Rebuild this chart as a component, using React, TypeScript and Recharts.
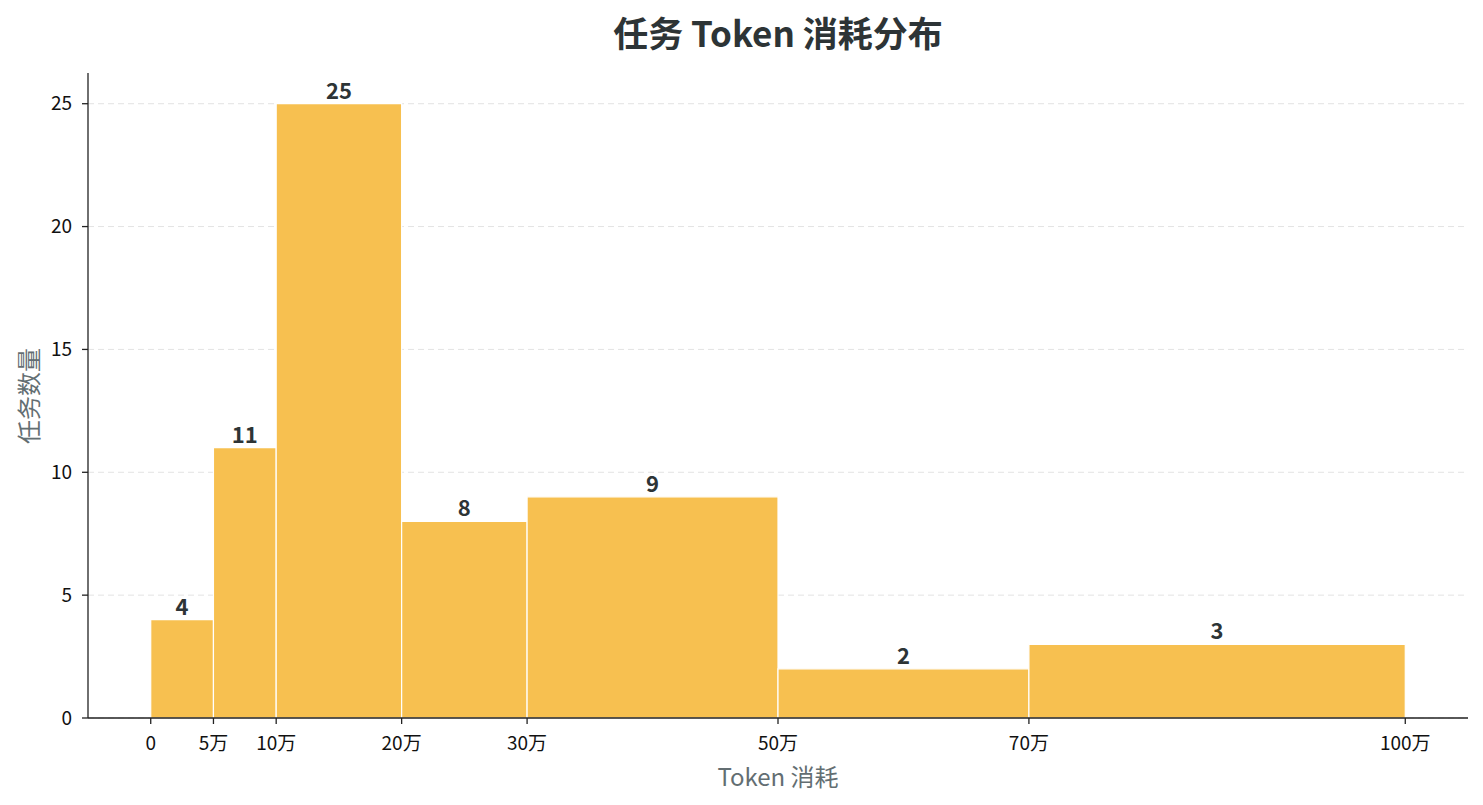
import { CartesianGrid, ComposedChart, ReferenceArea, XAxis, YAxis } from "recharts";

// bin edges in 万 tokens and task counts per bin
const binEdges = [0, 5, 10, 20, 30, 50, 70, 100];
const binCounts = [4, 11, 25, 8, 9, 2, 3];
const xTicks = [0, 5, 10, 20, 30, 50, 70, 100];
const yTicks = [0, 5, 10, 15, 20, 25];

const bins = binCounts.map((count, i) => ({ start: binEdges[i], end: binEdges[i + 1], count }));

const FONT = '"Noto Sans CJK SC", "Noto Sans", sans-serif';
const BAR_COLOR = "#f7c050";
const DARK = "#2d3436";
const GREY = "#636e72";
const AXIS = "#222";

const fmtX = (v: number) => (v === 0 ? "0" : `${v}万`);

export default function App() {
  return (
    <div style={{ position: "absolute", left: 0, top: 0, width: 1483, height: 805, fontFamily: FONT, background: "#fff" }}>
      <div
        style={{
          position: "absolute",
          left: 88,
          width: 1380,
          top: 10,
          textAlign: "center",
          fontSize: 35,
          fontWeight: 700,
          color: DARK,
          lineHeight: "44px",
        }}
      >
        任务 Token 消耗分布
      </div>
      <ComposedChart width={1483} height={805} data={bins} margin={{ top: 73, right: 15, bottom: 0, left: 0 }}>
        <CartesianGrid horizontal vertical={false} syncWithTicks stroke="#e3e3e3" strokeDasharray="6 4" />
        <XAxis
          type="number"
          dataKey="start"
          domain={[-5, 105]}
          ticks={xTicks}
          allowDataOverflow
          tickFormatter={fmtX}
          height={87}
          tickSize={6}
          tickMargin={13}
          tick={{ fontSize: 19, fill: "#111", fontFamily: FONT }}
          axisLine={{ stroke: AXIS, strokeWidth: 1.3 }}
          tickLine={{ stroke: AXIS, strokeWidth: 1.3 }}
          interval={0}
        />
        <YAxis
          type="number"
          domain={[0, 26.25]}
          ticks={yTicks}
          allowDataOverflow
          width={88}
          tickSize={6}
          tickMargin={10}
          tick={{ fontSize: 19, fill: "#111", fontFamily: FONT }}
          axisLine={{ stroke: AXIS, strokeWidth: 1.3 }}
          tickLine={{ stroke: AXIS, strokeWidth: 1.3 }}
        />
        {bins.map((b) => (
          <ReferenceArea
            key={b.start}
            x1={b.start}
            x2={b.end}
            y1={0}
            y2={b.count}
            fill={BAR_COLOR}
            fillOpacity={1}
            stroke="#fff"
            strokeWidth={1.2}
            label={{
              value: b.count,
              position: "top",
              offset: 5,
              fill: DARK,
              fontSize: 22,
              fontWeight: 700,
              fontFamily: FONT,
            }}
          />
        ))}
      </ComposedChart>
      <div
        style={{
          position: "absolute",
          left: 88,
          width: 1380,
          top: 761,
          textAlign: "center",
          fontSize: 24,
          color: GREY,
          lineHeight: "30px",
        }}
      >
        Token 消耗
      </div>
      <div
        style={{
          position: "absolute",
          left: 28,
          top: 396,
          transform: "translate(-50%, -50%) rotate(-90deg)",
          fontSize: 24,
          color: GREY,
          whiteSpace: "nowrap",
          lineHeight: "30px",
        }}
      >
        任务数量
      </div>
    </div>
  );
}
